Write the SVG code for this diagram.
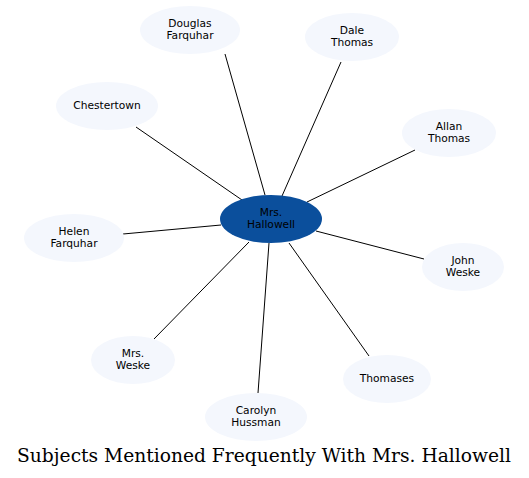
<svg xmlns="http://www.w3.org/2000/svg" width="529" height="478" viewBox="0 0 529 478">
<style>
.n ellipse{fill:#f4f7fd;stroke:none}
.n text{font-family:"DejaVu Sans",sans-serif;font-size:10.67px;fill:#000;text-anchor:middle}
#center ellipse{fill:#0b4f9c}
.e line{stroke:#000;stroke-width:1}
.title{font-family:"DejaVu Serif",serif;font-size:18.67px;fill:#000;text-anchor:middle}
</style>
<rect width="529" height="478" fill="#fff"/>
<g id="edges" class="e">
<line x1="265" y1="195" x2="225" y2="54"/>
<line x1="282" y1="196" x2="341" y2="62"/>
<line x1="242" y1="200" x2="136" y2="127"/>
<line x1="307" y1="202" x2="415" y2="150"/>
<line x1="221" y1="225" x2="123" y2="234"/>
<line x1="316" y1="231" x2="424" y2="259"/>
<line x1="249" y1="242" x2="154" y2="339"/>
<line x1="289" y1="243" x2="369" y2="356"/>
<line x1="269" y1="243" x2="258" y2="393"/>
</g>
<g id="center" class="n"><ellipse cx="271" cy="219" rx="51" ry="24"/><text x="271" y="216">Mrs.</text><text x="271" y="228">Hallowell</text></g>
<g id="douglas" class="n"><ellipse cx="190" cy="30" rx="50" ry="24"/><text x="190" y="27">Douglas</text><text x="190" y="39">Farquhar</text></g>
<g id="dale" class="n"><ellipse cx="352" cy="37" rx="47" ry="24"/><text x="352" y="34">Dale</text><text x="352" y="46">Thomas</text></g>
<g id="chestertown" class="n"><ellipse cx="107" cy="106" rx="51" ry="24"/><text x="107" y="109">Chestertown</text></g>
<g id="allan" class="n"><ellipse cx="449" cy="133" rx="47" ry="24"/><text x="449" y="130">Allan</text><text x="449" y="142">Thomas</text></g>
<g id="helen" class="n"><ellipse cx="74" cy="238" rx="50" ry="24"/><text x="74" y="235">Helen</text><text x="74" y="247">Farquhar</text></g>
<g id="john" class="n"><ellipse cx="463" cy="267" rx="41" ry="24"/><text x="463" y="264">John</text><text x="463" y="276">Weske</text></g>
<g id="mrsweske" class="n"><ellipse cx="133" cy="360" rx="42" ry="24"/><text x="133" y="357">Mrs.</text><text x="133" y="369">Weske</text></g>
<g id="thomases" class="n"><ellipse cx="387" cy="379" rx="44" ry="24"/><text x="387" y="382">Thomases</text></g>
<g id="carolyn" class="n"><ellipse cx="256" cy="417" rx="51" ry="24"/><text x="256" y="414">Carolyn</text><text x="256" y="426">Hussman</text></g>
<text class="title" x="264" y="462">Subjects Mentioned Frequently With Mrs. Hallowell</text>
</svg>
